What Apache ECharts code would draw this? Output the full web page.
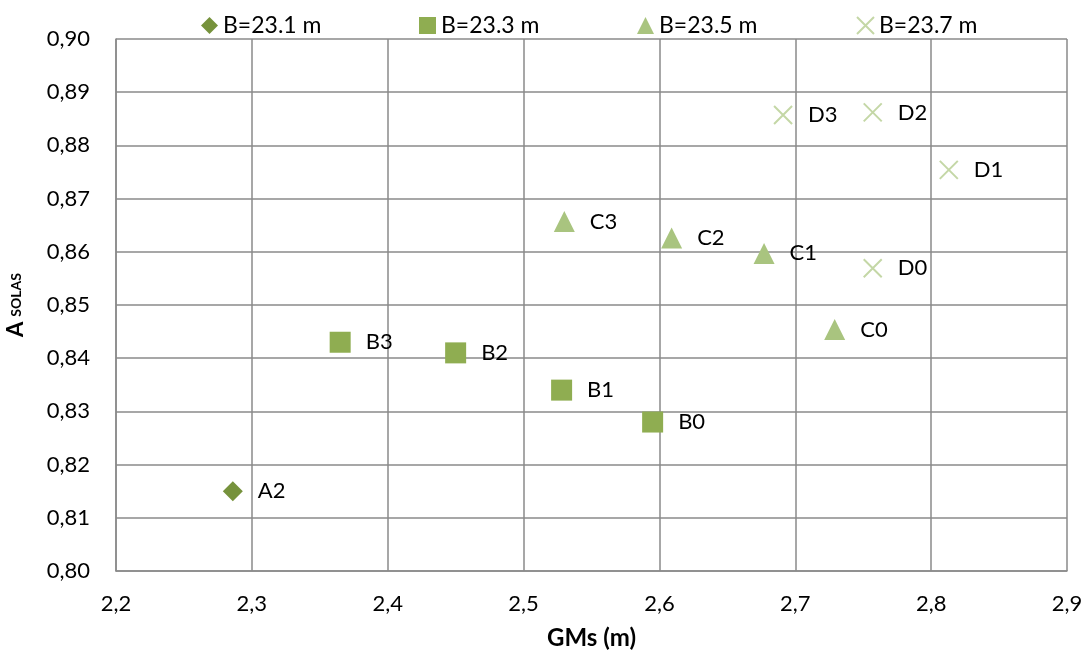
<!DOCTYPE html>
<html>
<head>
<meta charset="utf-8">
<script src="https://cdn.jsdelivr.net/npm/echarts@6/dist/echarts.min.js"></script>
<style>
  html, body { margin: 0; padding: 0; background: #ffffff; }
  #chart { width: 1086px; height: 652px; }
</style>
</head>
<body>
<div id="chart"></div>
<script>
// Series names (legend entries)
const seriesNames = ['B=23.1 m', 'B=23.3 m', 'B=23.5 m', 'B=23.7 m'];

// B = 23.1 m
const aLabels = ['A2'];
const aGMs    = [2.286];
const aSolas  = [0.815];

// B = 23.3 m
const bLabels = ['B3', 'B2', 'B1', 'B0'];
const bGMs    = [2.365, 2.450, 2.528, 2.595];
const bSolas  = [0.843, 0.841, 0.834, 0.828];

// B = 23.5 m
const cLabels = ['C3', 'C2', 'C1', 'C0'];
const cGMs    = [2.530, 2.609, 2.677, 2.729];
const cSolas  = [0.8657, 0.8626, 0.8597, 0.8454];

// B = 23.7 m
const dLabels = ['D3', 'D2', 'D1', 'D0'];
const dGMs    = [2.691, 2.757, 2.813, 2.757];
const dSolas  = [0.8857, 0.8862, 0.8754, 0.8569];

// Axis ranges and ticks
const xMin = 2.2, xMax = 2.9, xStep = 0.1;
const yMin = 0.80, yMax = 0.90, yStep = 0.01;

const FONT = 'Lato, "Open Sans", sans-serif';
const GRID_COLOR = '#8a8a8a';

function points(labels, xs, ys) {
  return labels.map((l, i) => ({ name: l, value: [xs[i], ys[i]] }));
}

const crossPath = 'path://M0,0L10,10M10,0L0,10';

const labelStyle = {
  show: true,
  position: 'right',
  distance: 15,
  formatter: '{b}',
  color: '#000000',
  fontFamily: FONT,
  fontSize: 22
};

function scatter(name, data, symbol, size, color, extra) {
  return Object.assign({
    name: name,
    type: 'scatter',
    data: data,
    symbol: symbol,
    symbolSize: size,
    itemStyle: { color: color, opacity: 1 },
    label: labelStyle,
    emphasis: { disabled: true }
  }, extra || {});
}

function legendAt(left, name) {
  return {
    left: left,
    top: 9,
    data: [name],
    itemWidth: 17,
    itemHeight: 17,
    itemGap: 0,
    textStyle: { fontFamily: FONT, fontSize: 23, color: '#000000' },
    selectedMode: false
  };
}

const chart = echarts.init(document.getElementById('chart'), null, { renderer: 'canvas' });

chart.setOption({
  animation: false,
  backgroundColor: '#ffffff',
  legend: [
    legendAt(196, seriesNames[0]),
    legendAt(414, seriesNames[1]),
    legendAt(632, seriesNames[2]),
    legendAt(851, seriesNames[3])
  ],
  grid: { left: 116, right: 19, top: 39, bottom: 81, containLabel: false, outerBoundsMode: 'none' },
  xAxis: {
    type: 'value',
    min: xMin,
    max: xMax,
    interval: xStep,
    name: 'GMs (m)',
    nameLocation: 'middle',
    nameGap: 55,
    nameTextStyle: { fontFamily: FONT, fontSize: 24, fontWeight: 'bold', color: '#000000' },
    axisLine: { show: true, lineStyle: { color: GRID_COLOR, width: 1.5 } },
    axisTick: { show: false },
    axisLabel: {
      margin: 22,
      fontFamily: FONT,
      fontSize: 22,
      color: '#000000',
      formatter: v => v.toFixed(1).replace('.', ',')
    },
    splitLine: { show: true, lineStyle: { color: GRID_COLOR, width: 1.5 } }
  },
  yAxis: {
    type: 'value',
    min: yMin,
    max: yMax,
    interval: yStep,
    name: '{a|A}{s|SOLAS}',
    nameLocation: 'middle',
    nameRotate: 90,
    nameGap: 89,
    nameTextStyle: {
      color: '#000000',
      rich: {
        a: { fontFamily: FONT, fontSize: 22, fontWeight: 'bold', color: '#000000', padding: [0, 5, 0, 0] },
        s: { fontFamily: FONT, fontSize: 14, fontWeight: 'bold', color: '#000000' }
      }
    },
    axisLine: { show: true, lineStyle: { color: GRID_COLOR, width: 1.5 } },
    axisTick: { show: false },
    axisLabel: {
      margin: 26,
      fontFamily: FONT,
      fontSize: 22,
      color: '#000000',
      formatter: v => v.toFixed(2).replace('.', ',')
    },
    splitLine: { show: true, lineStyle: { color: GRID_COLOR, width: 1.5 } }
  },
  series: [
    scatter(seriesNames[0], points(aLabels, aGMs, aSolas), 'diamond', 20, '#76923C'),
    scatter(seriesNames[1], points(bLabels, bGMs, bSolas), 'rect', 21, '#8FAD51'),
    scatter(seriesNames[2], points(cLabels, cGMs, cSolas), 'triangle', 21, '#A9C47F'),
    scatter(seriesNames[3], points(dLabels, dGMs, dSolas), crossPath, 18, '#C4D7A6', {
      itemStyle: { color: 'rgba(0,0,0,0)', borderColor: '#C4D7A6', borderWidth: 2, opacity: 1 }
    })
  ]
});
</script>
</body>
</html>
